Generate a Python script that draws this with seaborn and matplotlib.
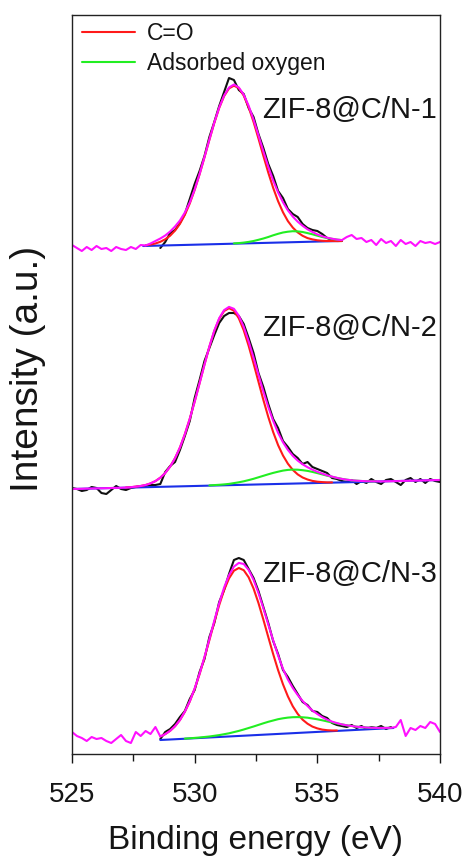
import numpy as np
import matplotlib
matplotlib.use("Agg")
import matplotlib.pyplot as plt
from matplotlib.lines import Line2D
from matplotlib.ticker import MultipleLocator
import seaborn as sns

# ---------------- data (binding energy grid step 0.2 eV) ----------------
STEP = 0.2
X_FULL_START = 525.0

panel_labels = ["ZIF-8@C/N-1", "ZIF-8@C/N-2", "ZIF-8@C/N-3"]
legend_labels = ["C=O", "Adsorbed oxygen"]
x_ticks = [525, 530, 535, 540]

# Panel 1
magenta1 = [509, 506, 503, 507, 504, 508, 505, 506, 503, 507, 505, 504, 507, 505, 509,
            508.5, 510.5, 513, 515.5, 518.5, 522.5, 527.5, 533.5, 541.5, 551.5, 564.5, 580,
            597, 614.5, 631.5, 646.5, 658.5, 666.5, 669.5, 666.5, 659.3, 648.3, 634.4, 618.8,
            602.7, 587.3, 573.5, 561.6, 551.7, 543.6, 537.4, 532.3, 528.2, 524.7, 522.0, 519.6,
            517.7, 516.3, 515.3, 514.4, 513.9,
            517, 519, 515, 516, 512, 514, 509, 515, 511, 513, 508, 514, 510, 512, 508, 513,
            511, 512, 510, 512]
black1_start = 528.6
black1 = [506, 512, 521, 524, 531, 540, 555, 570, 583, 598, 617, 632, 648, 662, 676, 674,
          664, 660, 646, 637, 620, 606, 590, 578, 563, 556, 545, 540, 537, 530, 526, 524,
          523, 520, 516, 514, 513, 513]
red1_start = 528.0
red1 = [508.7, 509.4, 510.5, 512.2, 514.7, 518.3, 523.4, 530.2, 539.2, 550.5, 564.1, 579.7,
        596.7, 614.2, 631.1, 646.1, 657.9, 665.6, 668.3, 665.9, 658.4, 646.8, 632.1, 615.5,
        598.2, 581.4, 566.1, 552.8, 541.7, 532.9, 526.4, 521.6, 518.2, 515.9, 514.6, 513.7,
        513.2, 513.0, 513.0, 512.9, 513.0]
green1_start = 531.6
green1 = [510.6, 510.9, 511.4, 512.1, 513.0, 514.2, 515.5, 517.0, 518.7, 520.2, 521.5, 522.3,
          522.8, 522.6, 522.0, 520.9, 519.7, 518.3, 517.0, 515.9, 515.1, 514.4, 513.9]
blue1_x = [527.9, 535.9]
blue1_y = [508, 513]

# Panel 2
magenta2 = [265.0, 265.1, 265.2, 265.4, 265.5, 265.6, 265.7, 265.8, 266.0, 266.1, 266.2,
            266.5, 266.8, 267.4, 268.0, 269.0, 270.6, 272.9, 276.3, 281.0, 287.4, 295.8,
            306.5, 319.8, 335.2, 352.4, 370.8, 389.4, 407.5, 423.4, 435.8, 443.9, 447.1,
            445.2, 438.3, 427.2, 412.8, 396.4, 379.4, 362.6, 347.0, 333.1, 321.2, 311.7,
            304.1, 298.1, 293.4, 289.7, 286.8, 284.3, 282.2, 280.4, 278.7, 277.4, 276.1,
            275.1, 274.3, 273.7, 273.3, 273.0, 272.8, 272.7, 272.7, 272.6, 272.7, 272.8,
            272.9, 273.0, 273.2, 273.3, 273.4, 273.5, 273.6, 273.8, 273.9, 274.0]
black2_start = 525.0
black2 = [266, 265, 263, 264, 267, 266, 261, 260, 264, 268, 265, 264, 266, 267, 268, 268,
          269, 269, 270, 282, 288, 292, 304, 318, 333, 356, 374, 393, 406, 419, 431, 438,
          441, 441, 438, 430, 416, 401, 381, 367, 350, 335, 326, 313, 307, 300, 296, 290,
          292, 287, 285, 283, 281, 276, 275, 273, 272, 274, 270, 273, 271, 275, 272, 270,
          274, 275, 272, 269, 274, 276, 272, 275, 271, 275, 273, 272]
red2_start = 527.2
red2 = [266.5, 266.8, 267.4, 268.0, 269.0, 270.6, 272.9, 276.3, 281.0, 287.4, 295.8, 306.5,
        319.8, 335.2, 352.4, 370.8, 389.4, 407.3, 423.0, 435.2, 443.0, 445.8, 443.3, 435.7,
        423.7, 408.2, 390.6, 372.3, 354.1, 337.1, 321.9, 308.9, 298.5, 290.3, 284.1, 279.6,
        276.5, 274.5, 273.1, 272.3, 271.9, 271.6, 271.6]
green2_start = 530.6
green2 = [268.6, 268.9, 269.2, 269.6, 270.1, 270.9, 271.7, 272.7, 273.9, 275.2, 276.7, 278.2,
          279.7, 281.1, 282.3, 283.4, 284.1, 284.4, 284.3, 283.8, 283.1, 282.1, 280.9, 279.6,
          278.3, 277.2, 276.1, 275.1, 274.3, 273.7, 273.3, 273.0, 272.8, 272.7, 272.7]
blue2_x = [525.0, 540.0]
blue2_y = [265, 274]

# Panel 3
magenta3 = [22, 18, 16, 13, 17, 15, 16, 13, 11, 15, 19, 13, 11, 22, 18, 23, 20, 27,
            17.5, 19.9, 23.2, 27.8, 34.0, 42.4, 52.7, 65.6, 80.3, 97.1, 114.9, 133.3, 150.8,
            166.5, 178.8, 187.4, 191.1, 190.0, 184.1, 174.2, 161.0, 145.8, 129.6, 113.6,
            98.6, 85.1, 74.5, 66.0, 59.0, 53.0, 48.0, 43.5, 40.0, 36.8, 34.3, 32.4, 30.9,
            29.6, 28.7, 28.0, 27.3, 26.9, 26.5, 26.3, 26.1, 26.1, 26.1, 26.2,
            27, 34, 18, 26, 24, 28, 26, 32, 30, 22]
black3_start = 528.6
black3 = [15, 22, 25, 30, 37, 43, 55, 64, 82, 95, 117, 131, 152, 164, 180, 194, 196, 194,
          185, 176, 163, 147, 131, 113, 100, 84, 77, 68, 60, 52, 49, 43, 42, 38, 36, 31, 29,
          28, 27, 29, 26, 28, 25, 27, 26, 28, 25, 27]
red3_start = 528.6
red3 = [17.5, 19.9, 23.2, 27.8, 34.0, 42.2, 52.5, 65.2, 79.8, 96.4, 113.9, 131.9, 148.9,
        164.0, 175.6, 183.3, 186.0, 183.8, 176.7, 165.5, 151.0, 134.4, 117.0, 99.9, 83.9,
        69.7, 57.6, 47.7, 40.1, 34.3, 30.3, 27.4, 25.6, 24.4, 23.8, 23.5, 23.5]
green3_start = 529.6
green3 = [15.4, 15.7, 16.1, 16.5, 17.0, 17.5, 18.2, 18.9, 19.8, 20.7, 21.9, 23.1, 24.5, 26.0,
          27.5, 29.1, 30.7, 32.2, 33.5, 34.8, 35.7, 36.4, 36.8, 36.9, 36.7, 36.3, 35.5, 34.7,
          33.7, 32.6, 31.5, 30.5, 29.6, 28.7, 28.0, 27.3, 26.9, 26.5, 26.3, 26.1, 26.1, 26.1,
          26.2]
blue3_x = [528.6, 538.1]
blue3_y = [14, 26]

# ---------------- styling ----------------
C_BLACK = "#111111"
C_RED = "#FF1A1A"
C_GREEN = "#22EE22"
C_BLUE = "#1A2FE8"
C_MAGENTA = "#FF10FF"
LW = 1.5
TXT = "#151515"

sns.set_theme(style="white")
plt.rcParams['font.family'] = ['Liberation Sans', 'DejaVu Sans']
plt.rcParams['text.color'] = TXT
plt.rcParams['axes.labelcolor'] = TXT

fig = plt.figure(figsize=(4.66, 8.61), dpi=100)
ax = fig.add_axes([72 / 466, 107 / 861, 368 / 466, 739 / 861])


def grid(start, n):
    return np.round(start + STEP * np.arange(n), 2)


def draw(x, y, color):
    sns.lineplot(x=np.asarray(x, float), y=np.asarray(y, float), ax=ax, color=color,
                 linewidth=LW, estimator=None, sort=False, legend=False)


panels = [
    (magenta1, black1_start, black1, red1_start, red1, green1_start, green1, blue1_x, blue1_y),
    (magenta2, black2_start, black2, red2_start, red2, green2_start, green2, blue2_x, blue2_y),
    (magenta3, black3_start, black3, red3_start, red3, green3_start, green3, blue3_x, blue3_y),
]

for (mag, bs, blk, rs, red, gs, grn, bx, by) in panels:
    draw(grid(bs, len(blk)), blk, C_BLACK)
    draw(bx, by, C_BLUE)
    draw(grid(rs, len(red)), red, C_RED)
    draw(grid(gs, len(grn)), grn, C_GREEN)
    draw(grid(X_FULL_START, len(mag)), mag, C_MAGENTA)

ax.set_xlim(525, 540)
ax.set_ylim(0, 739)
ax.set_xticks(x_ticks)
ax.set_xticklabels([str(t) for t in x_ticks])
ax.xaxis.set_minor_locator(MultipleLocator(2.5))
ax.set_yticks([])
ax.tick_params(axis='x', which='major', bottom=True, direction='out', length=6.5,
               width=1.0, pad=14, labelsize=20, colors=TXT)
ax.tick_params(axis='x', which='minor', bottom=True, direction='out', length=4.8,
               width=1.0, colors=TXT)
for sp in ax.spines.values():
    sp.set_color("#222222")
    sp.set_linewidth(1.0)

ax.set_xlabel("Binding energy (eV)", fontsize=24, labelpad=12)
ax.set_ylabel("Intensity (a.u.)", fontsize=28, labelpad=19)
ax.yaxis.label.set_y(0.521)

label_y = [0.8606, 0.5656, 0.2327]
for lab, yy in zip(panel_labels, label_y):
    ax.text(0.9918, yy, lab, transform=ax.transAxes, fontsize=21,
            ha='right', va='baseline')

handles = [Line2D([0], [0], color=C_RED, lw=LW), Line2D([0], [0], color=C_GREEN, lw=LW)]
ax.legend(handles, legend_labels, loc='upper left', bbox_to_anchor=(0.027, 0.991),
          frameon=False, fontsize=16.5, handlelength=2.3, handletextpad=0.55,
          labelspacing=0.3, borderpad=0, borderaxespad=0)

fig.savefig("out.png", dpi=100)
